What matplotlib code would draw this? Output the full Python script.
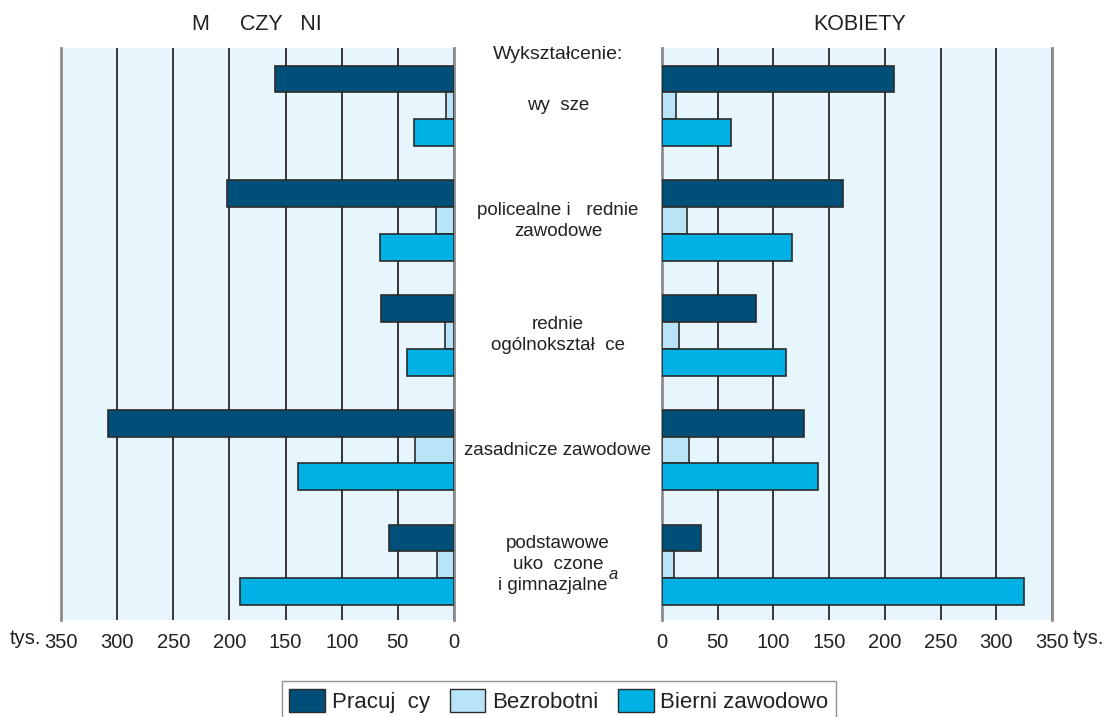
import matplotlib
matplotlib.use('Agg')
import matplotlib.pyplot as plt
import matplotlib.transforms as mtransforms
from matplotlib.patches import Patch
from matplotlib import font_manager

# font: narrow sans if available
names = {f.name for f in font_manager.fontManager.ttflist}
font = 'Liberation Sans'
for cand in ['Liberation Sans Narrow', 'Liberation Sans']:
    if cand in names:
        font = cand
        break
plt.rcParams['font.family'] = [font, 'DejaVu Sans']

# data (tys.)
categories = ['wy  sze', 'policealne i   rednie\nzawodowe', 'rednie\nogólnokształ  ce',
              'zasadnicze zawodowe', 'podstawowe\nuko  czone\ni gimnazjalne  ']
series = ['Pracuj  cy', 'Bezrobotni', 'Bierni zawodowo']
men_pracujacy = [159, 202, 65, 308, 58]
men_bezrobotni = [7, 16, 8, 35, 15]
men_bierni = [36, 66, 42, 139, 191]
women_pracujacy = [208, 162, 84, 127, 35]
women_bezrobotni = [13, 22, 15, 24, 11]
women_bierni = [62, 117, 111, 140, 325]
ticks = [0, 50, 100, 150, 200, 250, 300, 350]

colors = ['#004f79', '#b9e4f8', '#00b1e6']
bg = '#e7f5fd'
edge = '#2b2b2b'
txt = '#222222'

W, H = 1107, 717
fig = plt.figure(figsize=(W / 100, H / 100), dpi=100)
ax_l = fig.add_axes([61 / W, 1 - 620 / H, 393 / W, 572 / H])
ax_r = fig.add_axes([662 / W, 1 - 620 / H, 390 / W, 572 / H])

spacing = 4.28
centers = [i * spacing for i in range(len(categories))]
offs = [-1, 0, 1]

men = [men_pracujacy, men_bezrobotni, men_bierni]
women = [women_pracujacy, women_bezrobotni, women_bierni]

for ax, data in [(ax_l, men), (ax_r, women)]:
    ax.set_facecolor(bg)
    for k in range(3):
        ys = [c + offs[k] for c in centers]
        ax.barh(ys, data[k], height=1.0, color=colors[k], edgecolor=edge,
                linewidth=1.2, zorder=3)
    ax.set_ylim(18.6 + 0.58, -2.16)
    ax.set_xticks(ticks)
    ax.set_xticklabels([str(t) for t in ticks])
    ax.set_yticks([])
    ax.grid(axis='x', color='#252525', linewidth=1.3, zorder=1)
    ax.set_axisbelow(True)
    ax.tick_params(axis='x', length=0, pad=9, labelsize=14.5, colors=txt)
    for s in ['top', 'bottom']:
        ax.spines[s].set_visible(False)
    for s in ['left', 'right']:
        ax.spines[s].set_color('#8c8c8c')
        ax.spines[s].set_linewidth(2)

ax_l.set_xlim(350, 0)
ax_r.set_xlim(0, 350)

# titles
fig.text(257 / W, 1 - 25 / H, 'M     CZY   NI', ha='center', va='center', fontsize=15.5, color=txt)
fig.text(860 / W, 1 - 25 / H, 'KOBIETY', ha='center', va='center', fontsize=15.5, color=txt)

# tys. labels
fig.text(41 / W, 1 - 638 / H, 'tys.', ha='right', va='center', fontsize=14.5, color=txt)
fig.text(1073 / W, 1 - 638 / H, 'tys.', ha='left', va='center', fontsize=14.5, color=txt)

# category labels in the middle
tr = mtransforms.blended_transform_factory(fig.transFigure, ax_l.transData)
xc = 558 / W
fig.text(xc, -1.9, 'Wykształcenie:', transform=tr, ha='center', va='center',
         fontsize=14, color=txt)
labs = []
for c, lab in zip(centers, categories):
    labs.append(fig.text(xc, c, lab, transform=tr, ha='center', va='center', fontsize=13.5,
                         color=txt, linespacing=1.3))
# footnote mark after "i gimnazjalne"
fig.add_artist(plt.Annotation('a', xy=(1.0, 0.2), xycoords=labs[-1], ha='right', va='bottom',
                              fontsize=12, style='italic', color=txt))

# legend
handles = [Patch(facecolor=colors[k], edgecolor=edge, linewidth=1.0) for k in range(3)]
leg = fig.legend(handles, series, loc='upper center', bbox_to_anchor=(559 / W, 1 - 681 / H),
                 ncol=3, fontsize=16, frameon=True, fancybox=False, handlelength=1.6,
                 handleheight=1.2, handletextpad=0.3, columnspacing=0.9,
                 borderpad=0.35, borderaxespad=0)
leg.get_frame().set_edgecolor('#777777')
leg.get_frame().set_linewidth(1.0)
for t in leg.get_texts():
    t.set_color(txt)

fig.savefig('out.png', dpi=100)
